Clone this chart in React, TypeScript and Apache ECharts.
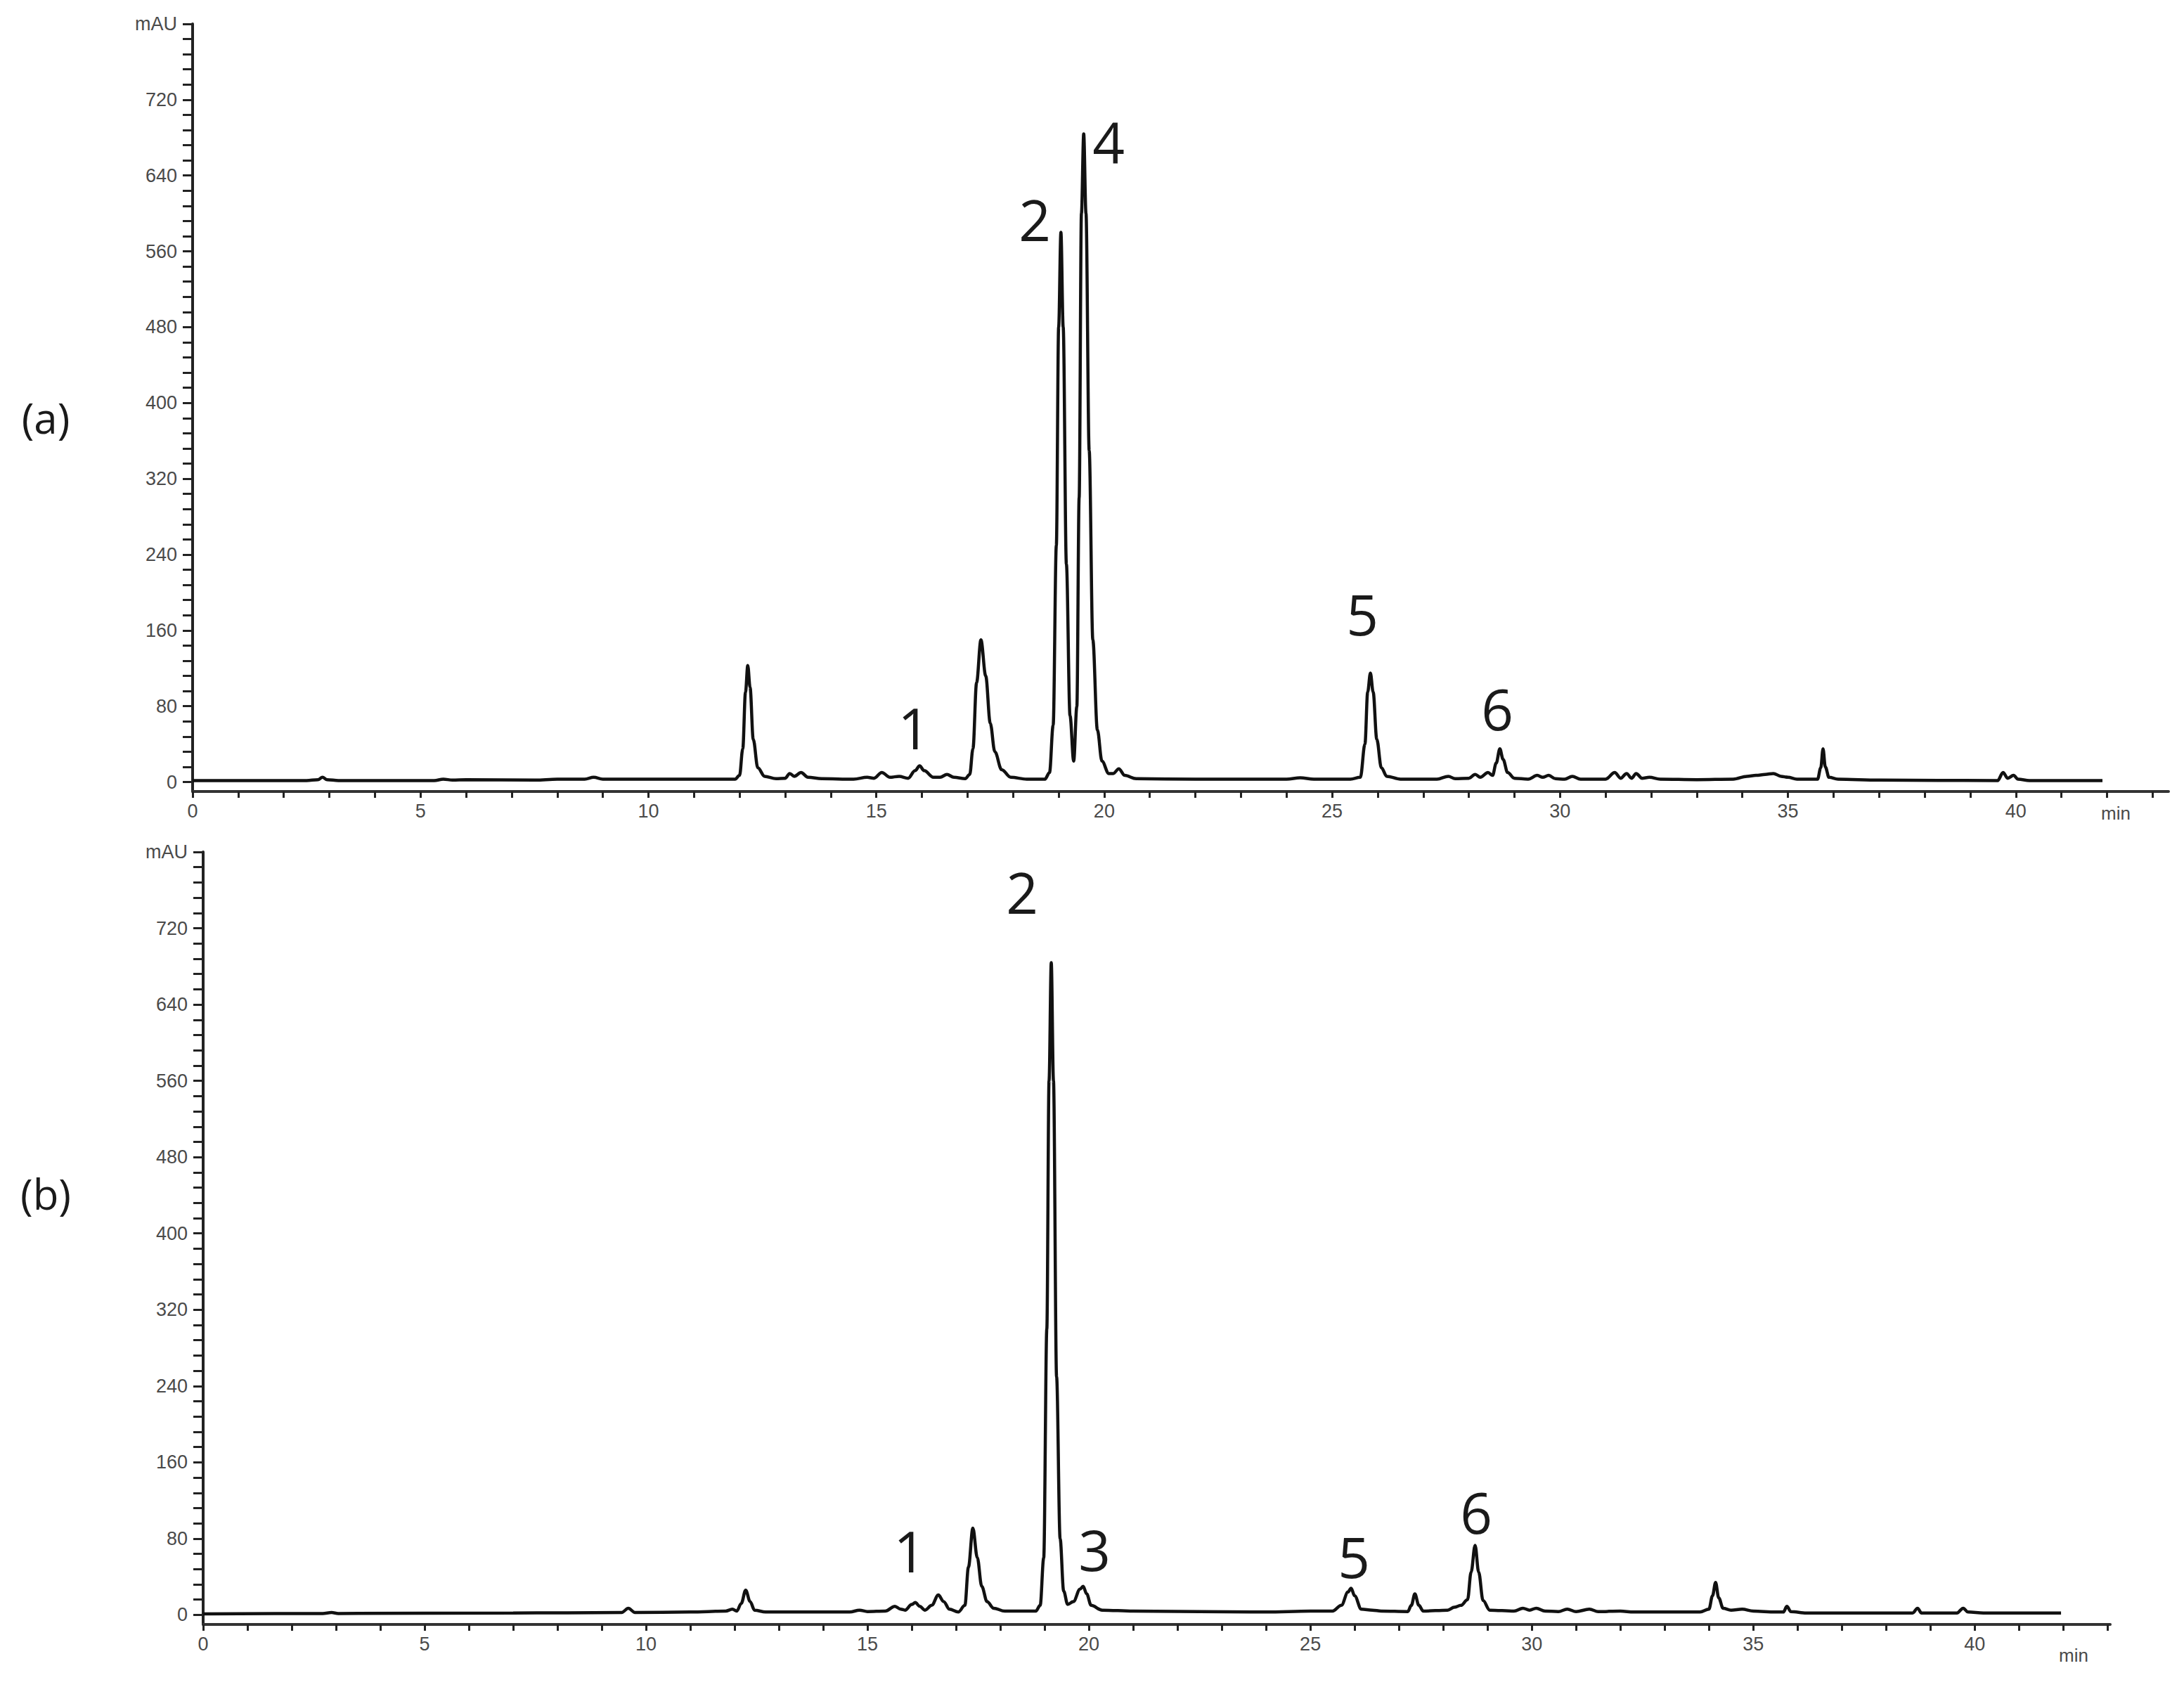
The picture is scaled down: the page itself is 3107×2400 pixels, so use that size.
import React, { useEffect, useRef } from 'react';
import * as echarts from 'echarts';

// ---- Chromatogram (a): retention time (min) and absorbance (mAU) ----
const timesA = [
  0, 2.5, 2.75, 2.85, 2.95, 3.2, 5.3, 5.5, 5.7, 6.0, 7.5, 8.0, 8.6, 8.8, 9.0, 10.0, 11.0, 11.9,
  12.0, 12.07, 12.13, 12.18, 12.23, 12.3, 12.4, 12.55, 12.8, 13.0, 13.1, 13.2, 13.35, 13.5, 13.8,
  14.5, 14.8, 14.95, 15.12, 15.3, 15.5, 15.7, 15.85, 15.95, 16.05, 16.25, 16.4, 16.55, 16.7, 16.95,
  17.05, 17.12, 17.2, 17.295, 17.4, 17.5, 17.6, 17.75, 17.95, 18.3, 18.7, 18.8, 18.88, 18.95,
  19.0, 19.05, 19.1, 19.17, 19.25, 19.33, 19.4, 19.45, 19.5, 19.55, 19.6, 19.67, 19.75, 19.85, 19.95,
  20.1, 20.2, 20.32, 20.45, 20.7, 22.0, 24.0, 24.3, 24.6, 25.4, 25.62, 25.72, 25.78, 25.84, 25.9,
  25.98, 26.08, 26.2, 26.5, 27.3, 27.55, 27.7, 28.0, 28.14, 28.25, 28.42, 28.52, 28.6, 28.68, 28.75,
  28.85, 29.0, 29.3, 29.5, 29.62, 29.75, 29.9, 30.1, 30.27, 30.45, 31.0, 31.2, 31.33, 31.46, 31.57,
  31.67, 31.8, 31.96, 32.2, 33.0, 33.8, 34.1, 34.3, 34.5, 34.68, 34.85, 35.0, 35.2, 35.65, 35.72,
  35.77, 35.82, 35.9, 36.1, 37.0, 39.6, 39.72, 39.82, 39.95, 40.05, 40.3, 41.9,
];
const valuesA = [
  1.5, 1.5, 2.5, 5, 2.5, 1.5, 1.5, 3, 2, 2.5, 2, 3, 3, 5, 3, 3, 3, 3,
  7, 35, 95, 123, 100, 45, 15, 6, 3.5, 4, 9, 6, 10, 5, 3.5,
  3, 5, 4, 10, 5, 6, 4, 12, 17, 12, 5, 5, 8, 5, 3.5,
  8, 35, 105, 150, 112, 62, 32, 13, 5, 3, 3, 10, 60, 250,
  480, 580, 480, 230, 70, 22, 80, 300, 600, 684, 600, 350, 150, 55, 22,
  9, 9, 14, 7, 3.5, 3, 3, 4.5, 3, 3, 5, 40, 95, 115, 95,
  45, 15, 6, 3, 3, 6, 3.5, 4, 8, 5, 10, 7, 20, 35, 24,
  10, 4, 3, 7, 5, 7, 3.5, 3, 6, 3, 3, 10, 4, 9, 4,
  9, 4, 5, 3, 2.5, 3, 6, 7, 8, 9, 6, 5, 3, 3, 15,
  35, 16, 5, 3, 2, 1.5, 10, 4, 7, 3, 1.5, 1.5,
];

// ---- Chromatogram (b) ----
const timesB = [
  0, 2.7, 2.9, 3.05, 7.0, 9.45, 9.6, 9.75, 11.0, 11.8, 11.95, 12.05, 12.15, 12.25, 12.35, 12.45,
  12.7, 14.6, 14.82, 15.0, 15.4, 15.62, 15.75, 15.85, 16.0, 16.08, 16.18, 16.3, 16.45, 16.6, 16.72,
  16.85, 17.05, 17.2, 17.28, 17.38, 17.48, 17.58, 17.7, 17.85, 18.1, 18.8, 18.9, 18.98, 19.05,
  19.1, 19.15, 19.2, 19.27, 19.35, 19.43, 19.52, 19.65, 19.8, 19.87, 19.95, 20.05, 20.3, 21.0, 24.0,
  25.0, 25.5, 25.7, 25.85, 25.92, 26.0, 26.15, 26.4, 26.6, 27.2, 27.28, 27.36, 27.45, 27.55, 28.1,
  28.25, 28.4, 28.55, 28.63, 28.72, 28.8, 28.9, 29.05, 29.6, 29.8, 29.95, 30.1, 30.3, 30.6, 30.8,
  31.0, 31.3, 31.5, 32.0, 32.3, 33.8, 34.0, 34.08, 34.15, 34.22, 34.32, 34.5, 34.75, 35.0, 35.5,
  35.68, 35.76, 35.85, 36.2, 38.6, 38.71, 38.8, 39.6, 39.74, 39.85, 40.2, 41.95,
];
const valuesB = [
  1, 1.5, 2.5, 1.5, 2, 2.5, 7, 2.5, 3, 4, 6, 4, 12, 26, 14, 5,
  3, 3, 5, 3.5, 4, 9, 6, 5, 11, 13, 9, 5, 10, 21, 14,
  6, 3, 10, 50, 91, 60, 30, 14, 7, 4, 4, 10, 60, 300,
  560, 684, 560, 250, 80, 25, 11, 14, 27, 30, 22, 10, 5, 4, 3,
  4, 4, 10, 24, 28, 20, 6, 5, 4, 3.5, 10, 22, 10, 4, 5,
  8, 10, 16, 45, 73, 45, 15, 5, 4, 7, 5, 7, 4, 3.5, 6,
  3.5, 6, 3.5, 4, 3, 3, 6, 20, 34, 18, 7, 5, 6, 4, 3,
  3, 9, 3.5, 2, 2, 7, 2, 2, 7, 3, 2, 2,
];

// ---- Axis ticks and labels ----
const xTickValues = [0, 1, 2, 3, 4, 5, 6, 7, 8, 9, 10, 11, 12, 13, 14, 15, 16, 17, 18, 19, 20, 21, 22, 23, 24, 25, 26, 27, 28, 29, 30, 31, 32, 33, 34, 35, 36, 37, 38, 39, 40, 41, 42, 43];
const xLabelValues = [0, 5, 10, 15, 20, 25, 30, 35, 40];
const yTickValues = [0, 16, 32, 48, 64, 80, 96, 112, 128, 144, 160, 176, 192, 208, 224, 240, 256, 272, 288, 304, 320, 336, 352, 368, 384, 400, 416, 432, 448, 464, 480, 496, 512, 528, 544, 560, 576, 592, 608, 624, 640, 656, 672, 688, 704, 720, 736, 752, 768, 784, 800];
const yLabelValues = [0, 80, 160, 240, 320, 400, 480, 560, 640, 720, 800];
const yUnit = 'mAU';
const xUnit = 'min';
const panelLabels = ['(a)', '(b)'];
const peakLabelsA = ['1', '2', '4', '5', '6'];
const peakLabelsB = ['1', '2', '3', '5', '6'];

const AXIS_COLOR = '#222';
const LABEL_COLOR = '#4a4a4a';
const TICK_FONT = 'Liberation Sans';

function makeXAxis(gridIndex: number, max: number) {
  return {
    type: 'value',
    gridIndex,
    min: 0,
    max,
    axisLine: { show: true, onZero: false, lineStyle: { color: '#333', width: 4 } },
    axisTick: { show: true, inside: false, length: 9, lineStyle: { color: AXIS_COLOR, width: 3 }, customValues: xTickValues },
    axisLabel: { show: true, customValues: xLabelValues, color: LABEL_COLOR, fontSize: 27, fontFamily: TICK_FONT, margin: 14 },
    splitLine: { show: false },
  };
}

function makeYAxis(gridIndex: number) {
  return {
    type: 'value',
    gridIndex,
    min: -10,
    max: 800,
    axisLine: { show: true, onZero: false, lineStyle: { color: AXIS_COLOR, width: 4 } },
    axisTick: { show: true, inside: false, length: 14, lineStyle: { color: AXIS_COLOR, width: 3 }, customValues: yTickValues },
    axisLabel: {
      show: true,
      customValues: yLabelValues,
      color: LABEL_COLOR,
      fontSize: 27,
      fontFamily: TICK_FONT,
      margin: 22,
      formatter: (v: number) => (v === 800 ? yUnit : String(v)),
    },
    splitLine: { show: false },
  };
}

function makeSeries(idx: number, times: number[], values: number[]) {
  return {
    type: 'line',
    xAxisIndex: idx,
    yAxisIndex: idx,
    data: times.map((t, i) => [t, values[i]]),
    showSymbol: false,
    symbol: 'none',
    smooth: 0.35,
    smoothMonotone: 'x',
    lineStyle: { color: '#111', width: 4.5 },
    silent: true,
  };
}

const peakFont = '80px "Open Sans", "Noto Sans", sans-serif';

function txt(text: string, x: number, y: number, font: string, fill = '#1a1a1a') {
  return { type: 'text', x, y, style: { text, font, fill, align: 'center', verticalAlign: 'middle' } };
}

export default function App() {
  const ref = useRef<HTMLDivElement>(null);
  useEffect(() => {
    if (!ref.current) return;
    const chart = echarts.init(ref.current, undefined, { renderer: 'svg' });
    const peakPosA = [[1300, 1034], [1472, 311], [1577, 200], [1938, 872], [2130, 1007]];
    const peakPosB = [[1294, 2205], [1454, 1268], [1557, 2203], [1926, 2213], [2100, 2150]];
    const graphics: any[] = [];
    peakLabelsA.forEach((l, i) => graphics.push(txt(l, peakPosA[i][0], peakPosA[i][1], peakFont)));
    peakLabelsB.forEach((l, i) => graphics.push(txt(l, peakPosB[i][0], peakPosB[i][1], peakFont)));
    graphics.push(txt(panelLabels[0], 65, 594, '60px "Open Sans", "Noto Sans", sans-serif'));
    graphics.push(txt(panelLabels[1], 65, 1698, '60px "Open Sans", "Noto Sans", sans-serif'));
    graphics.push(txt(xUnit, 3010, 1157, '26px "Liberation Sans", sans-serif', LABEL_COLOR));
    graphics.push(txt(xUnit, 2950, 2355, '26px "Liberation Sans", sans-serif', LABEL_COLOR));

    chart.setOption({
      animation: false,
      backgroundColor: '#ffffff',
      grid: [
        { left: 274, top: 34, width: 2811, height: 1092 },
        { left: 289, top: 1212, width: 2713, height: 1099 },
      ],
      xAxis: [makeXAxis(0, 43.35), makeXAxis(1, 43.06)],
      yAxis: [makeYAxis(0), makeYAxis(1)],
      series: [makeSeries(0, timesA, valuesA), makeSeries(1, timesB, valuesB)],
      graphic: graphics,
    });
    return () => chart.dispose();
  }, []);
  return <div ref={ref} style={{ position: 'fixed', left: 0, top: 0, width: 3107, height: 2400, background: '#fff' }} />;
}
